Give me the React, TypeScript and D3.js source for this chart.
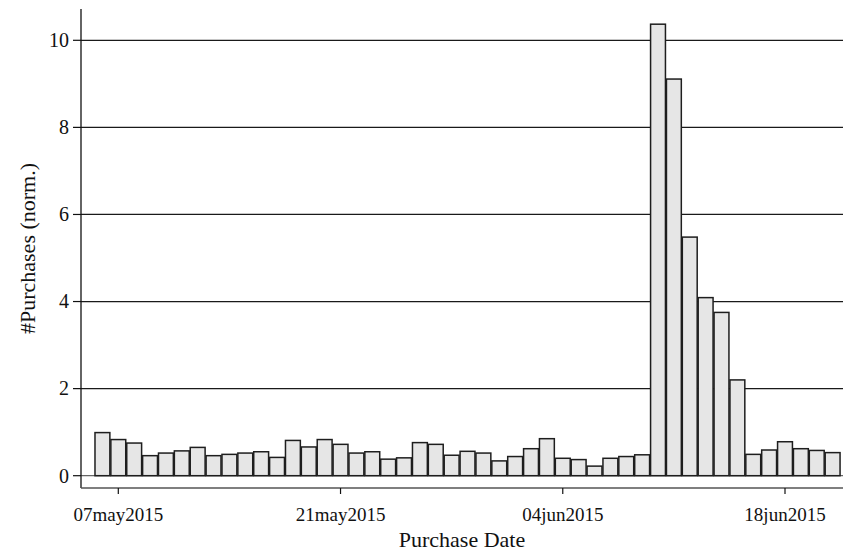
import React from "react";
import * as d3 from "d3";

// daily purchases, normalised, 06may2015 .. 21jun2015
const firstDay = new Date(2015, 4, 6);
const lastDay = new Date(2015, 5, 21);
const purchases = [
  0.99, 0.83, 0.75, 0.46, 0.52, 0.57, 0.65, 0.46, 0.49, 0.52,
  0.55, 0.42, 0.81, 0.66, 0.83, 0.72, 0.52, 0.55, 0.38, 0.41,
  0.76, 0.72, 0.47, 0.56, 0.52, 0.34, 0.44, 0.62, 0.85, 0.40,
  0.37, 0.22, 0.40, 0.44, 0.48, 10.37, 9.11, 5.48, 4.09, 3.75,
  2.20, 0.49, 0.59, 0.78, 0.62, 0.58, 0.53,
];
const xTicks = [new Date(2015, 4, 7), new Date(2015, 4, 21), new Date(2015, 5, 4), new Date(2015, 5, 18)];
const yTicks = [0, 2, 4, 6, 8, 10];
const xTitle = "Purchase Date";
const yTitle = "#Purchases (norm.)";

const days = d3.timeDay.range(firstDay, d3.timeDay.offset(lastDay, 1));
const data = days.map((d, i) => ({ date: d, value: purchases[i] }));

const width = 843;
const height = 552;
const left = 81;
const right = 843;
const axisTop = 9;
const axisBottom = 488;
const font = "'Liberation Serif', 'Times New Roman', serif";

const x = d3.scaleTime().domain([xTicks[0], xTicks[3]]).range([118.3, 785]);
const y = d3.scaleLinear().domain([0, 10]).range([475.7, 40.3]);
const fmt = d3.timeFormat("%d%b%Y");
const dayW = x(d3.timeDay.offset(xTicks[0], 1)) - x(xTicks[0]);
const barW = dayW - 1;

export default function App() {
  return (
    <svg width={width} height={height} style={{ position: "absolute", left: 0, top: 0, background: "#fff" }}>
      {/* grid */}
      {yTicks.map(t => (
        <line key={"g" + t} x1={left} x2={right} y1={y(t)} y2={y(t)}
          stroke={t === 0 ? "#666" : "#1a1a1a"} strokeWidth={1.2} />
      ))}
      {/* bars */}
      {data.map(d => (
        <rect key={d.date.toISOString()} x={x(d.date) - barW / 2} y={y(d.value)}
          width={barW} height={y(0) - y(d.value)}
          fill="#e6e6e6" stroke="#1e1e1e" strokeWidth={1.5} />
      ))}
      {/* y axis */}
      <line x1={left} x2={left} y1={axisTop} y2={axisBottom} stroke="#111" strokeWidth={1.3} />
      {yTicks.map(t => (
        <g key={"y" + t}>
          <line x1={left - 8} x2={left} y1={y(t)} y2={y(t)} stroke="#111" strokeWidth={1.2} />
          <text x={left - 12} y={y(t)} dy="0.34em" textAnchor="end" fontFamily={font} fontSize={20} fill="#111">{t}</text>
        </g>
      ))}
      {/* x axis */}
      <line x1={left} x2={right} y1={axisBottom} y2={axisBottom} stroke="#555" strokeWidth={1.5} />
      {xTicks.map(t => (
        <g key={"x" + t.getTime()}>
          <line x1={x(t)} x2={x(t)} y1={axisBottom} y2={axisBottom + 6} stroke="#111" strokeWidth={1.2} />
          <text x={x(t)} y={520.7} textAnchor="middle" fontFamily={font} fontSize={19} fill="#111">{fmt(t).toLowerCase()}</text>
        </g>
      ))}
      <text x={(left + right) / 2} y={546.5} textAnchor="middle" fontFamily={font} fontSize={22} fill="#111">{xTitle}</text>
      <text transform={`translate(35,${(axisTop + axisBottom) / 2}) rotate(-90)`} textAnchor="middle"
        fontFamily={font} fontSize={22} fill="#111">{yTitle}</text>
    </svg>
  );
}
